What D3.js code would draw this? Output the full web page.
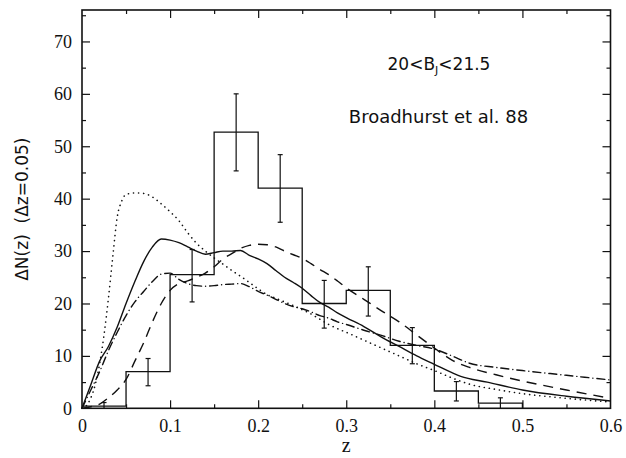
<!DOCTYPE html>
<html><head><meta charset="utf-8">
<script src="https://cdn.jsdelivr.net/npm/d3@7"></script>
<style>html,body{margin:0;padding:0;background:#fff;}svg{display:block;}
.serif{font-family:'Liberation Serif','DejaVu Serif',serif;}
</style>
</head><body>
<script>
// ---- data ----
const binEdges = [0,0.05,0.1,0.15,0.2,0.25,0.3,0.35,0.4,0.45,0.5];
const binCounts = [0.4,7,25.5,52.7,42,20,22.5,12,3.3,1.0];
const errZ  = [0.025,0.075,0.125,0.175,0.225,0.275,0.325,0.375,0.425,0.475];
const errLo = [0,4.3,20.3,45.3,35.5,15.3,17.6,8.5,1.4,0];
const errHi = [1.1,9.5,30.3,60,48.4,24.4,27.0,15.4,5.1,2.0];

const solidZ = [0,0.01,0.02,0.03,0.04,0.05,0.06,0.07,0.08,0.09,0.1,0.11,0.12,0.13,0.14,0.15,0.16,0.17,0.18,0.19,0.2,0.21,0.22,0.23,0.24,0.25,0.26,0.27,0.28,0.29,0.3,0.32,0.34,0.36,0.38,0.4,0.42,0.43,0.46,0.5,0.55,0.6];
const solidN = [0,4.5,9,11.8,15.5,20,24.2,28,30.8,32.3,32.1,31.6,30.8,30,29.4,29.7,30,30,30.1,29.2,28.5,27.6,26.3,25,24,22.9,21.5,20.2,19.3,18.2,17.3,15.6,13.6,11.8,10,8.4,6.8,6.1,5,3.5,2.3,1.4];

const dotZ = [0,0.005,0.01,0.015,0.02,0.025,0.03,0.035,0.04,0.045,0.05,0.06,0.07,0.08,0.09,0.1,0.11,0.12,0.13,0.14,0.15,0.16,0.17,0.18,0.19,0.2,0.21,0.22,0.23,0.24,0.25,0.26,0.27,0.28,0.29,0.3,0.32,0.34,0.36,0.38,0.4,0.42,0.44,0.47,0.5,0.55,0.6];
const dotN = [0,0.5,2,4.5,8.5,14,21,29,36.5,39.5,40.8,41.1,41,40.3,39,37.5,35.8,33.5,31.5,30,28.7,27.5,26.3,25.2,24,22.8,21.7,21,20.3,19.6,18.8,18,17,16,15.2,14.5,13,11.5,10,8.5,7.2,5.8,4.6,3.6,2.8,1.9,1.2];

const dashZ = [0,0.01,0.02,0.03,0.04,0.05,0.06,0.07,0.08,0.09,0.1,0.11,0.12,0.13,0.14,0.15,0.16,0.17,0.18,0.19,0.2,0.21,0.22,0.23,0.24,0.25,0.26,0.27,0.28,0.29,0.3,0.32,0.34,0.36,0.38,0.4,0.42,0.44,0.47,0.5,0.55,0.6];
const dashN = [0,0.3,0.8,2,3.5,5.5,9,12.5,16.5,20,22.5,23.8,24.3,25,25.8,27,28.5,29.5,30.5,31.1,31.3,31.2,30.8,30,29.3,28.6,27.6,26.5,25.5,24.3,23,20.8,18.6,16.5,14,11.5,9.2,7.8,6.4,5.2,3.5,1.9];

const ddZ = [0,0.01,0.02,0.03,0.04,0.05,0.06,0.07,0.08,0.09,0.1,0.11,0.12,0.13,0.14,0.15,0.16,0.17,0.18,0.19,0.2,0.21,0.22,0.23,0.24,0.25,0.26,0.27,0.28,0.29,0.3,0.32,0.34,0.36,0.38,0.4,0.42,0.44,0.47,0.5,0.55,0.6];
const ddN = [0,3.5,7,11,14.5,17.7,20.3,22.3,24.2,25.6,25.8,24.6,23.8,23.4,23.3,23.4,23.6,23.7,23.8,23.2,22.3,21.6,20.8,20,19.4,19,18.4,17.7,17.2,16.5,16,14.9,13.9,12.8,12,11.3,10,8.6,7.8,7.2,6.3,5.4];

const xTicks = [0,0.1,0.2,0.3,0.4,0.5,0.6];
const yTicks = [0,10,20,30,40,50,60,70];

// ---- layout ----
const W = 626, H = 458;
const L = 82, R = 610.5, T = 10, B = 408.3;
const x = d3.scaleLinear().domain([0,0.6]).range([L,R]);
const y = d3.scaleLinear().domain([0,76]).range([B,T]);

const svg = d3.select("body").append("svg").attr("width",W).attr("height",H);
svg.append("rect").attr("width",W).attr("height",H).attr("fill","#fff");

const ink = "#111";
const sans = "'DejaVu Sans', sans-serif";

// frame
svg.append("rect").attr("x",L).attr("y",T).attr("width",R-L).attr("height",B-T)
  .attr("fill","none").attr("stroke",ink).attr("stroke-width",1.6);

// axes with inward ticks
const xMinor = d3.range(0.05,0.6,0.1);
const yMinor = d3.range(5,76,10);
function tickAxis(axisFn, scale, vals, size, tr){
  const g = svg.append("g").attr("transform",tr)
    .call(axisFn(scale).tickValues(vals).tickSize(size).tickFormat(""));
  g.select(".domain").remove();
  g.selectAll("line").attr("stroke",ink).attr("stroke-width",1.2);
  return g;
}
tickAxis(d3.axisTop, x, xTicks.slice(1,-1), 8, `translate(0,${B})`);
tickAxis(d3.axisTop, x, xMinor, 4, `translate(0,${B})`);
tickAxis(d3.axisBottom, x, xTicks.slice(1,-1), 8, `translate(0,${T})`);
tickAxis(d3.axisBottom, x, xMinor, 4, `translate(0,${T})`);
tickAxis(d3.axisRight, y, yTicks.slice(1), 8, `translate(${L},0)`);
tickAxis(d3.axisRight, y, yMinor, 4, `translate(${L},0)`);
tickAxis(d3.axisLeft, y, yTicks.slice(1), 8, `translate(${R},0)`);
tickAxis(d3.axisLeft, y, yMinor, 4, `translate(${R},0)`);

// tick labels via axes
const xl = svg.append("g").attr("transform",`translate(0,${B})`)
  .call(d3.axisBottom(x).tickValues(xTicks).tickSize(0).tickPadding(11)
    .tickFormat(d => d===0 ? "0" : d3.format(".1f")(d)));
xl.select(".domain").remove();
xl.attr("font-family",null);
xl.selectAll("text").attr("class","serif").attr("font-size",18).attr("fill",ink);

const yl = svg.append("g").attr("transform",`translate(${L},0)`)
  .call(d3.axisLeft(y).tickValues(yTicks).tickSize(0).tickPadding(10).tickFormat(d3.format("d")));
yl.select(".domain").remove();
yl.attr("font-family",null);
yl.selectAll("text").attr("class","serif").attr("font-size",18).attr("fill",ink);

// axis titles
svg.append("text").attr("class","serif").attr("x",(L+R)/2).attr("y",452).attr("text-anchor","middle")
  .attr("font-size",20).attr("fill",ink).text("z");
svg.append("text").attr("transform",`translate(28,${(T+B)/2}) rotate(-90)`)
  .attr("text-anchor","middle").attr("font-family",sans).attr("font-size",17).attr("fill",ink)
  .attr("xml:space","preserve").style("white-space","pre")
  .text("ΔN(z)  (Δz=0.05)");

// annotations
const t1 = svg.append("text").attr("x",439).attr("y",70).attr("text-anchor","middle")
  .attr("font-family",sans).attr("font-size",17).attr("fill",ink);
t1.append("tspan").text("20<B");
t1.append("tspan").attr("font-size",11).attr("dy",4).text("J");
t1.append("tspan").attr("dy",-4).text("<21.5");
svg.append("text").attr("x",438.5).attr("y",123).attr("text-anchor","middle")
  .attr("font-family",sans).attr("font-size",18).attr("fill",ink).text("Broadhurst et al. 88");

// histogram (step)
const steps = [[binEdges[0],binCounts[0]]];
binCounts.forEach((c,i)=>{ steps.push([binEdges[i],c]); steps.push([binEdges[i+1],c]); });
steps.push([binEdges[binEdges.length-1],0]);
const stepLine = d3.line().x(d=>x(d[0])).y(d=>y(d[1]));
svg.append("path").attr("d",stepLine(steps)).attr("fill","none").attr("stroke",ink).attr("stroke-width",1.3);

// error bars
const eg = svg.append("g").attr("stroke",ink).attr("stroke-width",1.2);
errZ.forEach((z,i)=>{
  eg.append("line").attr("x1",x(z)).attr("x2",x(z)).attr("y1",y(errLo[i])).attr("y2",y(errHi[i]));
  eg.append("line").attr("x1",x(z)-2.5).attr("x2",x(z)+2.5).attr("y1",y(errHi[i])).attr("y2",y(errHi[i]));
  if (errLo[i] > 0)
    eg.append("line").attr("x1",x(z)-2.5).attr("x2",x(z)+2.5).attr("y1",y(errLo[i])).attr("y2",y(errLo[i]));
});

// model curves
const curve = d3.line().x(d=>x(d[0])).y(d=>y(d[1])).curve(d3.curveMonotoneX);
function drawCurve(zs, ns, dash, w, cap){
  svg.append("path").attr("d",curve(zs.map((z,i)=>[z,ns[i]])))
    .attr("fill","none").attr("stroke",ink).attr("stroke-width",w)
    .attr("stroke-dasharray",dash).attr("stroke-linecap",cap||"butt");
}
drawCurve(solidZ, solidN, null, 1.4);
drawCurve(dotZ, dotN, "0.1,5", 1.6, "round");
drawCurve(dashZ, dashN, "10,7", 1.4);
drawCurve(ddZ, ddN, "8,4,0.1,4", 1.4, "round");
</script>
</body></html>
